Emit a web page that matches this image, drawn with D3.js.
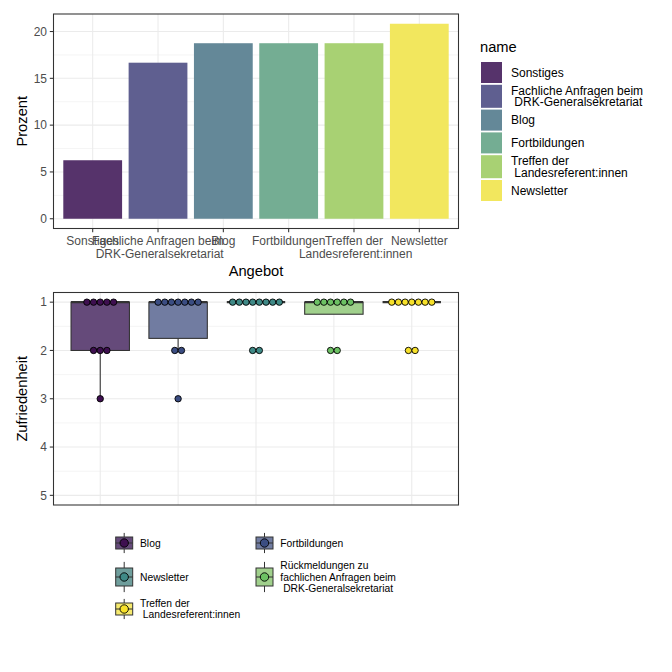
<!DOCTYPE html>
<html>
<head>
<meta charset="utf-8">
<script src="https://cdn.jsdelivr.net/npm/d3@7"></script>
<style>
body { margin: 0; background: #fff; }
svg { font-family: "Liberation Sans", Arial, sans-serif; }
</style>
</head>
<body>
<svg id="chart" width="672" height="672"></svg>
<script>
// ---------- DATA ----------
const barCategories = ["Sonstiges", "Fachliche Anfragen beim\n DRK-Generalsekretariat", "Blog", "Fortbildungen", "Treffen der\n Landesreferent:innen", "Newsletter"];
const barPercent = [6.25, 16.67, 18.75, 18.75, 18.75, 20.83];
const barColors = ["#56336B", "#5F5F90", "#648898", "#74AD93", "#A8D173", "#F2E75E"];
const barYTicks = [0, 5, 10, 15, 20];

const boxGroups = ["Blog", "Fortbildungen", "Newsletter", "Rückmeldungen zu\nfachlichen Anfragen beim\n DRK-Generalsekretariat", "Treffen der\n Landesreferent:innen"];
const ratingLevels = [1, 2, 3, 4, 5];
// counts of answers per rating level (1..5) for each group
const countsBlog = [5, 3, 1, 0, 0];
const countsFortbildungen = [7, 2, 1, 0, 0];
const countsNewsletter = [8, 2, 0, 0, 0];
const countsRueckmeldungen = [6, 2, 0, 0, 0];
const countsTreffen = [7, 2, 0, 0, 0];
const boxFill = ["#654A7A", "#717CA1", "#6F9E9C", "#A0D08C", "#F6EA6E"];
const dotFill = ["#3E0F50", "#3B4D82", "#3F8A87", "#6CC163", "#F7E12A"];

// ---------- SETUP ----------
const svg = d3.select("#chart");
const gridCol = "#EBEBEB";
const borderCol = "#333333";
const tickTextCol = "#4D4D4D";
const tickFont = 12;
const titleFont = 14.7;

// multi-line text helper (one <text> with tspans)
function multiText(g, x, yFirst, lines, lh, opts) {
  const t = g.append("text").attr("x", x).attr("y", yFirst).attr("font-size", opts.size)
    .attr("fill", opts.fill).attr("text-anchor", opts.anchor || "start").attr("xml:space", "preserve");
  lines.forEach((ln, k) => {
    t.append("tspan").attr("x", x).attr("y", yFirst + k * lh).text(ln);
  });
  return t;
}

// ---------- TOP BAR CHART ----------
const P1 = { l: 53.5, r: 458.5, t: 14, b: 228.5 };
const yMax1 = d3.max(barPercent);
const x1 = d3.scalePoint().domain(barCategories).range([P1.l, P1.r]).padding(0.6);
const step1 = x1.step();
const y1 = d3.scaleLinear().domain([-0.05 * yMax1, yMax1 * 1.05]).range([P1.b, P1.t]);

const g1 = svg.append("g");
[2.5, 7.5, 12.5, 17.5].forEach(v => {
  g1.append("line").attr("x1", P1.l).attr("x2", P1.r).attr("y1", y1(v)).attr("y2", y1(v))
    .attr("stroke", gridCol).attr("stroke-width", 0.55);
});
barYTicks.forEach(v => {
  g1.append("line").attr("x1", P1.l).attr("x2", P1.r).attr("y1", y1(v)).attr("y2", y1(v))
    .attr("stroke", gridCol).attr("stroke-width", 1.07);
});
barCategories.forEach(c => {
  g1.append("line").attr("x1", x1(c)).attr("x2", x1(c)).attr("y1", P1.t).attr("y2", P1.b)
    .attr("stroke", gridCol).attr("stroke-width", 1.07);
});
g1.selectAll("rect.bar").data(barCategories).join("rect")
  .attr("x", d => x1(d) - step1 * 0.45)
  .attr("width", step1 * 0.9)
  .attr("y", (d, i) => y1(barPercent[i]))
  .attr("height", (d, i) => y1(0) - y1(barPercent[i]))
  .attr("fill", (d, i) => barColors[i]);
g1.append("rect").attr("x", P1.l).attr("y", P1.t).attr("width", P1.r - P1.l).attr("height", P1.b - P1.t)
  .attr("fill", "none").attr("stroke", borderCol).attr("stroke-width", 1.07);
barYTicks.forEach(v => {
  g1.append("line").attr("x1", P1.l - 3.7).attr("x2", P1.l).attr("y1", y1(v)).attr("y2", y1(v))
    .attr("stroke", borderCol).attr("stroke-width", 1.07);
  g1.append("text").attr("x", P1.l - 6.5).attr("y", y1(v) + 4.2).attr("text-anchor", "end")
    .attr("font-size", tickFont).attr("fill", tickTextCol).text(v);
});
barCategories.forEach(c => {
  g1.append("line").attr("x1", x1(c)).attr("x2", x1(c)).attr("y1", P1.b).attr("y2", P1.b + 3.7)
    .attr("stroke", borderCol).attr("stroke-width", 1.07);
  multiText(g1, x1(c), P1.b + 16, c.split("\n"), 13.4, { size: tickFont, fill: tickTextCol, anchor: "middle" });
});
g1.append("text").attr("x", (P1.l + P1.r) / 2).attr("y", 275.5).attr("text-anchor", "middle")
  .attr("font-size", titleFont).attr("fill", "#000").text("Angebot");
g1.append("text").attr("transform", `translate(27,${(P1.t + P1.b) / 2}) rotate(-90)`).attr("text-anchor", "middle")
  .attr("font-size", titleFont).attr("fill", "#000").text("Prozent");

// top legend
const L1 = { x: 481, y: 62 };
g1.append("text").attr("x", 480).attr("y", 52).attr("font-size", titleFont).attr("fill", "#000").text("name");
let ly = L1.y;
barCategories.forEach((c, i) => {
  const lines = c.split("\n");
  const h = lines.length > 1 ? 23 : 21;
  g1.append("rect").attr("x", L1.x).attr("y", ly).attr("width", 21).attr("height", h).attr("fill", barColors[i]);
  const cy = ly + h / 2;
  const lh = 11.9;
  multiText(g1, 511, cy - (lines.length - 1) / 2 * lh + 4.2, lines, lh, { size: tickFont, fill: "#000" });
  ly += h + 1.8;
});

// ---------- BOTTOM BOX PLOT ----------
const P2 = { l: 53.5, r: 458.5, t: 292.5, b: 505 };
const allCounts = [countsBlog, countsFortbildungen, countsNewsletter, countsRueckmeldungen, countsTreffen];
const x2 = d3.scalePoint().domain(boxGroups).range([P2.l, P2.r]).padding(0.6);
const step2 = x2.step();
const y2 = d3.scaleLinear().domain([0.8, 5.2]).range([P2.t, P2.b]);
const g2 = svg.append("g");
[1.5, 2.5, 3.5, 4.5].forEach(v => {
  g2.append("line").attr("x1", P2.l).attr("x2", P2.r).attr("y1", y2(v)).attr("y2", y2(v))
    .attr("stroke", gridCol).attr("stroke-width", 0.55);
});
ratingLevels.forEach(v => {
  g2.append("line").attr("x1", P2.l).attr("x2", P2.r).attr("y1", y2(v)).attr("y2", y2(v))
    .attr("stroke", gridCol).attr("stroke-width", 1.07);
});
boxGroups.forEach(c => {
  g2.append("line").attr("x1", x2(c)).attr("x2", x2(c)).attr("y1", P2.t).attr("y2", P2.b)
    .attr("stroke", gridCol).attr("stroke-width", 1.07);
});

const dotR = 3.2, dotStep = 6.67;
boxGroups.forEach((grp, gi) => {
  const counts = allCounts[gi];
  const vals = [];
  counts.forEach((n, li) => { for (let k = 0; k < n; k++) vals.push(ratingLevels[li]); });
  vals.sort(d3.ascending);
  const q1 = d3.quantile(vals, 0.25), med = d3.quantile(vals, 0.5), q3 = d3.quantile(vals, 0.75);
  const iqr = q3 - q1;
  const lo = d3.min(vals.filter(v => v >= q1 - 1.5 * iqr));
  const hi = d3.max(vals.filter(v => v <= q3 + 1.5 * iqr));
  const cx = x2(grp), bw = step2 * 0.75;
  if (hi > q3) g2.append("line").attr("x1", cx).attr("x2", cx).attr("y1", y2(q3)).attr("y2", y2(hi)).attr("stroke", borderCol).attr("stroke-width", 1.07);
  if (lo < q1) g2.append("line").attr("x1", cx).attr("x2", cx).attr("y1", y2(q1)).attr("y2", y2(lo)).attr("stroke", borderCol).attr("stroke-width", 1.07);
  g2.append("rect").attr("x", cx - bw / 2).attr("width", bw).attr("y", y2(q1)).attr("height", Math.max(0, y2(q3) - y2(q1)))
    .attr("fill", boxFill[gi]).attr("stroke", borderCol).attr("stroke-width", 1.07);
  g2.append("line").attr("x1", cx - bw / 2).attr("x2", cx + bw / 2).attr("y1", y2(med)).attr("y2", y2(med))
    .attr("stroke", borderCol).attr("stroke-width", 2.2);
  counts.forEach((n, li) => {
    for (let k = 0; k < n; k++) {
      g2.append("circle").attr("cx", cx + (k - (n - 1) / 2) * dotStep).attr("cy", y2(ratingLevels[li]))
        .attr("r", dotR).attr("fill", dotFill[gi]).attr("stroke", "#000").attr("stroke-width", 0.9);
    }
  });
});
g2.append("rect").attr("x", P2.l).attr("y", P2.t).attr("width", P2.r - P2.l).attr("height", P2.b - P2.t)
  .attr("fill", "none").attr("stroke", borderCol).attr("stroke-width", 1.07);
ratingLevels.forEach(v => {
  g2.append("line").attr("x1", P2.l - 3.7).attr("x2", P2.l).attr("y1", y2(v)).attr("y2", y2(v))
    .attr("stroke", borderCol).attr("stroke-width", 1.07);
  g2.append("text").attr("x", P2.l - 6.5).attr("y", y2(v) + 4.2).attr("text-anchor", "end")
    .attr("font-size", tickFont).attr("fill", tickTextCol).text(v);
});
g2.append("text").attr("transform", `translate(27,${(P2.t + P2.b) / 2}) rotate(-90)`).attr("text-anchor", "middle")
  .attr("font-size", titleFont).attr("fill", "#000").text("Zufriedenheit");

// bottom legend (2 columns, by row)
const legColX = [115.7, 256];
const legRowY = [543, 577, 609];
const legRowH = [24, 36, 24];
const legFont = 10.3;
boxGroups.forEach((grp, gi) => {
  const col = gi % 2, row = Math.floor(gi / 2);
  const kx = legColX[col], cy = legRowY[row], h = legRowH[row], w = 17;
  const kcx = kx + w / 2;
  g2.append("line").attr("x1", kcx).attr("x2", kcx).attr("y1", cy - h * 0.42).attr("y2", cy + h * 0.42)
    .attr("stroke", borderCol).attr("stroke-width", 1);
  g2.append("rect").attr("x", kx).attr("y", cy - h * 0.25).attr("width", w).attr("height", h * 0.5)
    .attr("fill", boxFill[gi]).attr("stroke", borderCol).attr("stroke-width", 1);
  g2.append("line").attr("x1", kx).attr("x2", kx + w).attr("y1", cy).attr("y2", cy)
    .attr("stroke", borderCol).attr("stroke-width", 1);
  g2.append("circle").attr("cx", kcx).attr("cy", cy).attr("r", 4.2)
    .attr("fill", dotFill[gi]).attr("stroke", "#000").attr("stroke-width", 0.9);
  const lines = grp.split("\n");
  const lh = 11.6;
  multiText(g2, kx + 24.3, cy - (lines.length - 1) / 2 * lh + 3.6, lines, lh, { size: legFont, fill: "#000" });
});
</script>
</body>
</html>
